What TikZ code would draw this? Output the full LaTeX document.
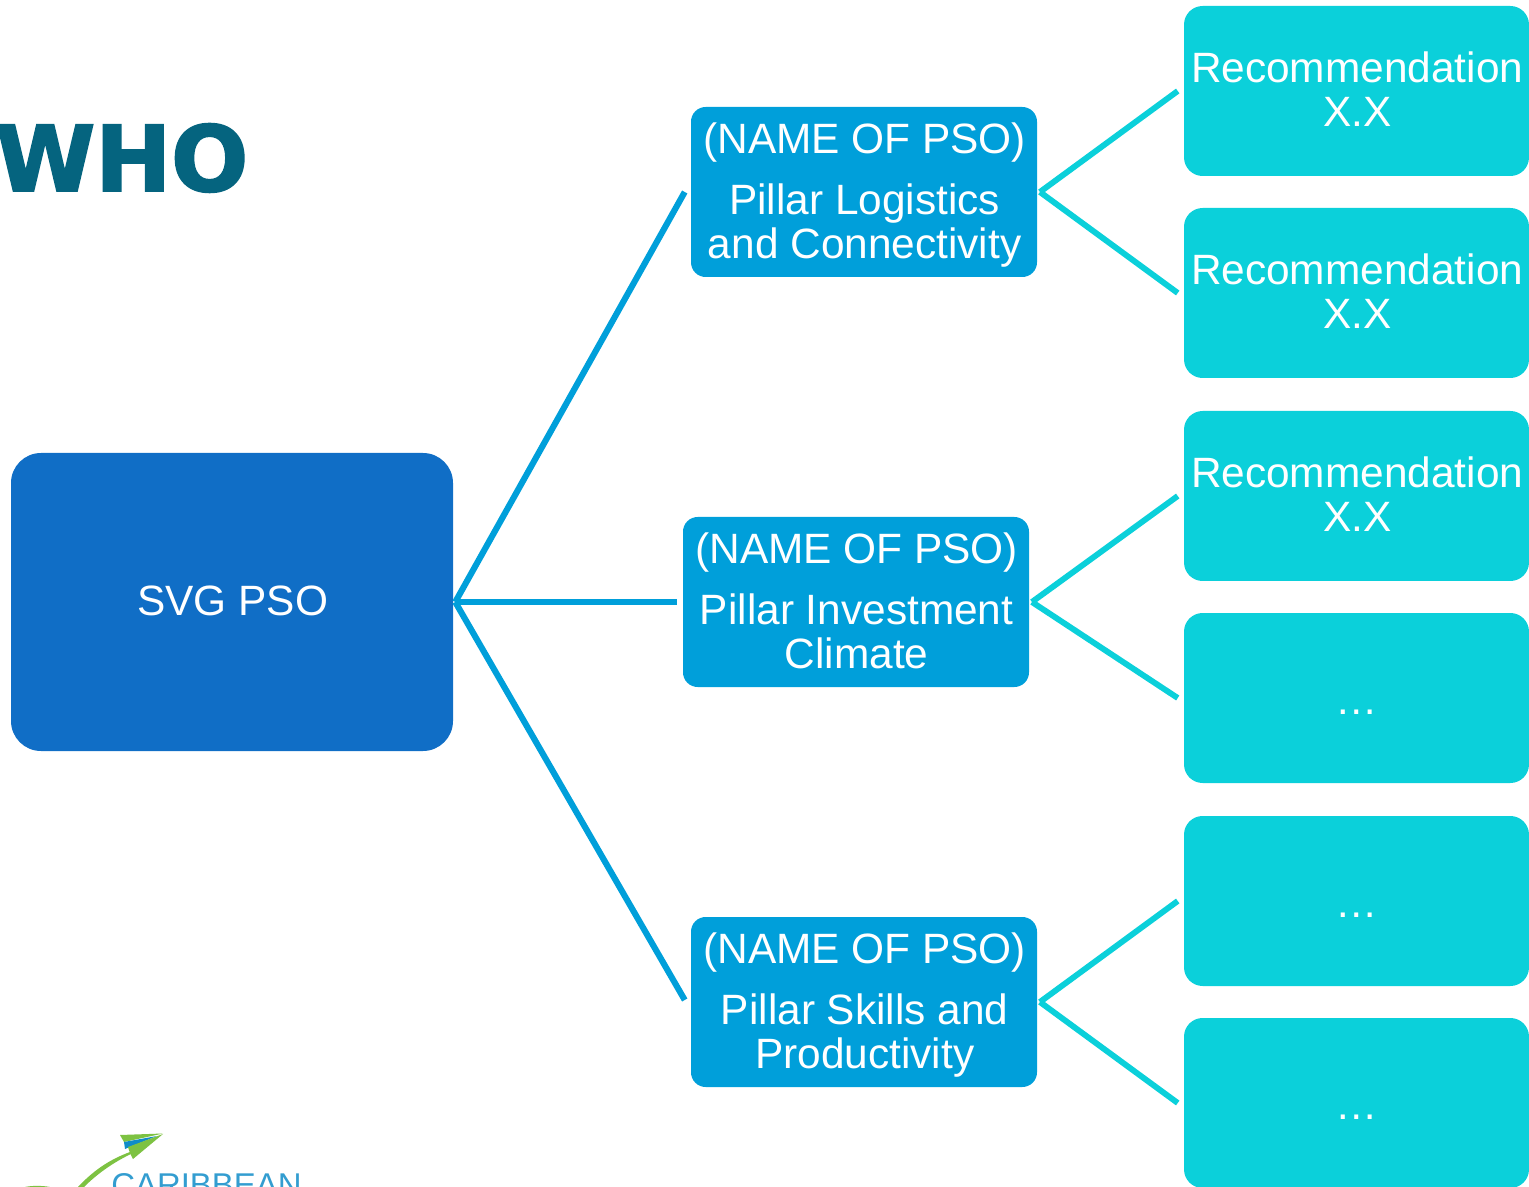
\documentclass[tikz,border=0pt]{standalone}
\usepackage{fontspec}
\setmainfont{Liberation Sans}
\newfontfamily\whofont[FakeBold=2.2]{DejaVu Sans}
\definecolor{rootblue}{HTML}{106EC6}
\definecolor{midblue}{HTML}{009FDA}
\definecolor{recteal}{HTML}{0BD0DA}
\definecolor{whoteal}{HTML}{05647F}
\definecolor{logogreen}{HTML}{7DC242}
\definecolor{logoblue}{HTML}{0F8CC8}
\newcommand{\boxlbl}[2]{\hspace*{1pt}\smash{\raisebox{#1}{\setlength{\tabcolsep}{0pt}\begin{tabular}[t]{c}#2\end{tabular}}}}
\tikzset{
  rootbox/.style={fill=rootblue,rounded corners=22.5pt,minimum width=331.5pt,minimum height=223.5pt,inner sep=0pt,text=white,font=\fontsize{31.8}{33}\selectfont},
  midbox/.style={fill=midblue,rounded corners=11pt,minimum width=259.5pt,minimum height=127.5pt,inner sep=0pt,text=white,font=\fontsize{31.8}{33}\selectfont},
  recbox/.style={fill=recteal,rounded corners=14pt,minimum width=258.75pt,minimum height=127.5pt,inner sep=0pt,text=white,font=\fontsize{31.8}{33}\selectfont},
  rootline/.style={draw=midblue,line width=4.6pt},
  recline/.style={draw=recteal,line width=4.4pt}
}
\begin{document}
\begin{tikzpicture}[x=0.75pt,y=-0.75pt]
\clip (0,0) rectangle (1529,1187);
\useasboundingbox (0,0) rectangle (1529,1187);
\node[anchor=base west,inner sep=0pt,text=whoteal,font=\whofont\bfseries\fontsize{68}{71}\selectfont] (who) at (-5,191) {WHO};
\node[rootbox] (root) at (232,602) {\boxlbl{-9.75pt}{SVG PSO}};
\node[midbox] (pa) at (864,192) {\boxlbl{28.75pt}{(NAME OF PSO)\\[12.75pt]Pillar Logistics\\and Connectivity}};
\node[midbox] (pb) at (856,602) {\boxlbl{28.75pt}{(NAME OF PSO)\\[12.75pt]Pillar Investment\\Climate}};
\node[midbox] (pc) at (864,1002) {\boxlbl{28.75pt}{(NAME OF PSO)\\[12.75pt]Pillar Skills and\\Productivity}};
\node[recbox] (r1) at (1356.5,91) {\boxlbl{6pt}{Recommendation\\X.X}};
\node[recbox] (r2) at (1356.5,293) {\boxlbl{6pt}{Recommendation\\X.X}};
\node[recbox] (r3) at (1356.5,496) {\boxlbl{6pt}{Recommendation\\X.X}};
\node[recbox] (r4) at (1356.5,698) {\boxlbl{-12pt}{\ldots}};
\node[recbox] (r5) at (1356.5,901) {\boxlbl{-12pt}{\ldots}};
\node[recbox] (r6) at (1356.5,1103) {\boxlbl{-12pt}{\ldots}};
\draw[rootline] ([xshift=1.5pt]root.east) -- ([xshift=-4.5pt]pa.west);
\draw[rootline] ([xshift=1.5pt]root.east) -- ([xshift=-4.5pt]pb.west);
\draw[rootline] ([xshift=1.5pt]root.east) -- ([xshift=-4.5pt,yshift=1.5pt]pc.west);
\draw[recline] ([xshift=2pt]pa.east) -- ([xshift=-4.5pt]r1.west);
\draw[recline] ([xshift=2pt]pa.east) -- ([xshift=-4.5pt]r2.west);
\draw[recline] ([xshift=2pt]pb.east) -- ([xshift=-4.5pt]r3.west);
\draw[recline] ([xshift=2pt]pb.east) -- ([xshift=-4.5pt]r4.west);
\draw[recline] ([xshift=2pt]pc.east) -- ([xshift=-4.5pt]r5.west);
\draw[recline] ([xshift=2pt]pc.east) -- ([xshift=-4.5pt]r6.west);
% logo, cut off by the page edge
\fill[logogreen] (120,1135) -- (163,1133.5) -- (124,1142) -- cycle;
\fill[logoblue] (124,1142) -- (157,1136) -- (125,1149) -- cycle;
\fill[logogreen] (128,1147) -- (163,1134) -- (133,1159) -- (130,1153) -- cycle;
\fill[logogreen] (78,1187) .. controls (92,1172) and (108,1160) .. (130,1152) -- (131,1154) .. controls (112,1163) and (96,1175) .. (84,1187) -- cycle;
\fill[logogreen] (25,1187) .. controls (32,1185.5) and (42,1185.5) .. (50,1187) -- cycle;
\node[anchor=base west,inner sep=0pt,text=logoblue!85,font=\fontsize{24.7}{26}\selectfont] (logo) at (111,1196) {CARIBBEAN};
\end{tikzpicture}
\end{document}
